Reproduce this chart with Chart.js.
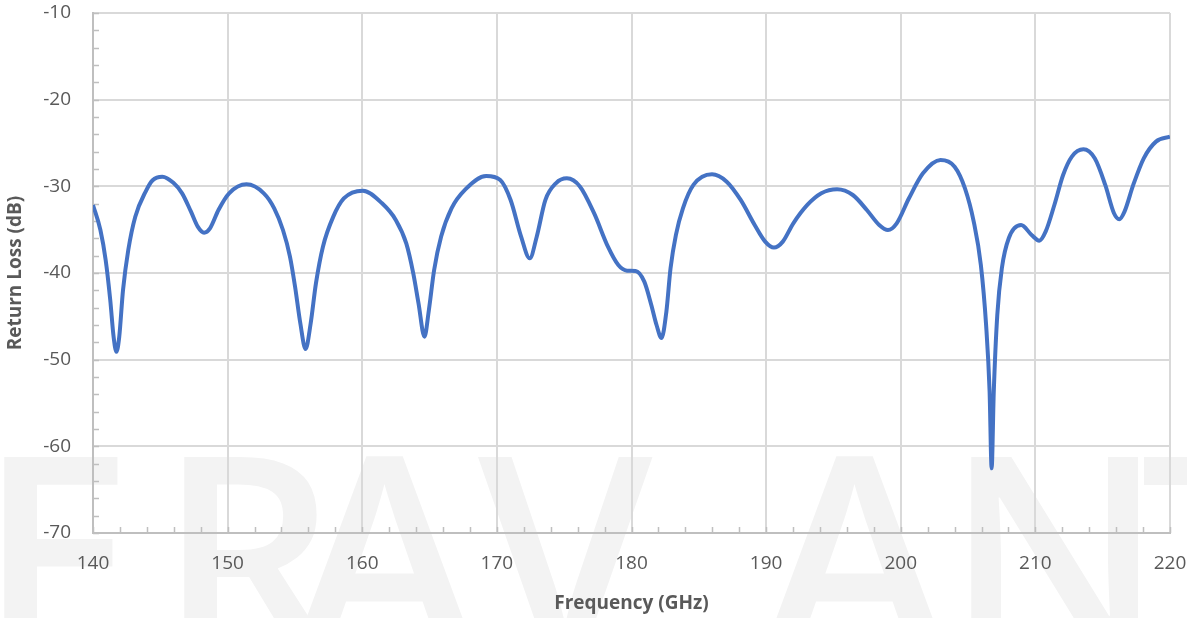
<!DOCTYPE html>
<html>
<head>
<meta charset="utf-8">
<title>Return Loss</title>
<script src="https://cdn.jsdelivr.net/npm/chart.js@4.4.1/dist/chart.umd.min.js"></script>
<style>
    html, body { margin: 0; padding: 0; background: #ffffff; }
    #wrap { width: 1187px; height: 618px; position: relative; }
</style>
</head>
<body>
<div id="wrap"><canvas id="rlChart" width="1187" height="618"></canvas></div>
<script>
// Frequency points (GHz)
const freqGHz = [
    140.0, 140.55, 140.94, 141.28, 141.53, 141.74, 141.95, 142.23, 142.62, 143.14,
    143.91, 144.43, 145.15, 145.97, 146.62, 147.27, 147.78, 148.25, 148.69, 149.33,
    150.11, 151.4, 152.69, 153.46, 154.11, 154.63, 155.01, 155.4, 155.79, 156.17,
    156.56, 157.08, 157.85, 158.63, 160.05, 161.47, 162.5, 163.27, 163.79, 164.18,
    164.62, 164.95, 165.34, 165.86, 166.63, 167.66, 169.21, 170.25, 171.02, 171.8,
    172.44, 172.96, 173.6, 174.38, 175.2, 176.18, 177.22, 178.25, 179.02, 179.67,
    180.3, 180.95, 181.47, 181.86, 182.23, 182.59, 182.9, 183.3, 183.82, 184.6,
    185.98, 187.07, 188.11, 189.15, 189.93, 190.58, 191.24, 192.02, 193.06, 194.1,
    195.27, 196.44, 197.48, 198.4, 199.05, 199.7, 200.61, 201.65, 202.95, 204.0,
    204.77, 205.42, 205.95, 206.34, 206.6, 206.75, 206.91, 207.17, 207.51, 208.03,
    208.94, 209.72, 210.29, 210.76, 211.41, 212.06, 212.71, 213.57, 214.41, 215.19,
    215.84, 216.23, 216.62, 217.27, 218.05, 218.96, 220.0
];

// Return loss (dB) at each frequency
const returnLossDb = [
    -32.15, -35.04, -38.5, -43.1, -47.35, -49.1, -47.35, -41.96, -37.35, -33.5,
    -30.6, -29.3, -28.9, -29.6, -30.81, -32.9, -34.65, -35.35, -34.85, -32.7,
    -30.81, -29.77, -30.81, -32.54, -35.04, -38.1, -41.58, -45.8, -48.77, -45.8,
    -41.2, -36.96, -33.5, -31.4, -30.5, -31.96, -33.9, -36.58, -40.04, -43.5,
    -47.35, -44.27, -39.66, -35.8, -32.54, -30.35, -28.81, -29.27, -31.58, -35.81,
    -38.31, -35.81, -31.58, -29.65, -29.08, -30.04, -33.1, -36.96, -39.08, -39.73,
    -39.77, -41.0, -43.69, -46.0, -47.5, -44.46, -39.46, -35.6, -32.54, -29.84,
    -28.61, -29.46, -31.57, -34.46, -36.38, -37.07, -36.38, -34.27, -32.15, -30.8,
    -30.34, -31.0, -32.73, -34.46, -35.04, -34.27, -31.38, -28.5, -26.96, -27.73,
    -30.23, -34.07, -39.07, -46.0, -53.69, -62.54, -53.69, -44.85, -39.46, -35.96,
    -34.46, -35.61, -36.27, -35.23, -32.15, -28.69, -26.57, -25.73, -26.77, -29.84,
    -33.11, -33.8, -32.92, -29.84, -26.77, -24.84, -24.27
];

// Axis ranges / tick steps
const xRange = [140, 220];
const yRange = [-70, -10];
const majorStep = 10;
const minorStep = 2;

const points = freqGHz.map((f, i) => ({ x: f, y: returnLossDb[i] }));

const textGray = '#595959';
const gridGray = '#d9d9d9';
const axisGray = '#bfbfbf';

// faint logo watermark behind the plot
const watermark = {
    id: 'watermark',
    beforeDraw(chart) {
        const ctx = chart.ctx;
        const letters = ['E', 'R', 'A', 'V', 'A', 'N', 'T'];
        const xs = [-22, 158, 292, 478, 762, 945, 1140];
        ctx.save();
        ctx.fillStyle = '#f3f3f3';
        ctx.font = '600 280px "Open Sans"';
        ctx.textBaseline = 'alphabetic';
        letters.forEach((ch, i) => ctx.fillText(ch, xs[i], 657));
        ctx.restore();
    }
};

// small tick marks on the inside of both axes
const minorTicks = {
    id: 'minorTicks',
    beforeDatasetsDraw(chart) {
        const { ctx, chartArea, scales } = chart;
        ctx.save();
        ctx.strokeStyle = axisGray;
        ctx.lineWidth = 1.5;
        ctx.beginPath();
        for (let v = xRange[0]; v <= xRange[1]; v += minorStep) {
            const px = Math.round(scales.x.getPixelForValue(v)) + 0.5;
            ctx.moveTo(px, chartArea.bottom);
            ctx.lineTo(px, chartArea.bottom - 6);
        }
        for (let v = yRange[0]; v <= yRange[1]; v += minorStep) {
            const py = Math.round(scales.y.getPixelForValue(v)) + 0.5;
            ctx.moveTo(chartArea.left, py);
            ctx.lineTo(chartArea.left + 6, py);
        }
        ctx.stroke();
        ctx.restore();
    }
};

new Chart(document.getElementById('rlChart'), {
    type: 'line',
    data: {
        datasets: [{
            label: 'Return Loss',
            data: points,
            borderColor: '#4472c4',
            borderWidth: 4,
            pointRadius: 0,
            fill: false,
            cubicInterpolationMode: 'monotone'
        }]
    },
    options: {
        responsive: false,
        animation: false,
        layout: {
            padding: { top: 13, right: 17, left: 0, bottom: 0 }
        },
        plugins: {
            legend: { display: false },
            tooltip: { enabled: false }
        },
        scales: {
            x: {
                type: 'linear',
                min: xRange[0],
                max: xRange[1],
                afterFit: function (scale) {
                    scale.height = 85;
                    scale.paddingLeft = 0;
                    scale.paddingRight = 0;
                },
                ticks: {
                    stepSize: majorStep,
                    color: textGray,
                    padding: 19,
                    maxRotation: 0,
                    font: { family: '"Open Sans"', size: 19 }
                },
                grid: { color: gridGray, lineWidth: 2, drawTicks: false },
                border: { display: true, color: axisGray, width: 2 },
                title: {
                    display: true,
                    text: 'Frequency (GHz)',
                    color: textGray,
                    padding: { top: 0, bottom: 3 },
                    font: { family: '"Open Sans"', size: 19, weight: 'bold' }
                }
            },
            y: {
                min: yRange[0],
                max: yRange[1],
                afterFit: function (scale) {
                    scale.width = 93;
                    scale.paddingTop = 0;
                    scale.paddingBottom = 0;
                },
                ticks: {
                    stepSize: majorStep,
                    color: textGray,
                    padding: 22,
                    font: { family: '"Open Sans"', size: 19 }
                },
                grid: { color: gridGray, lineWidth: 2, drawTicks: false },
                border: { display: true, color: axisGray, width: 2 },
                title: {
                    display: true,
                    text: 'Return Loss (dB)',
                    color: textGray,
                    padding: { top: 4, bottom: 0 },
                    font: { family: '"Open Sans"', size: 19, weight: 'bold' }
                }
            }
        }
    },
    plugins: [watermark, minorTicks]
});
</script>
</body>
</html>
